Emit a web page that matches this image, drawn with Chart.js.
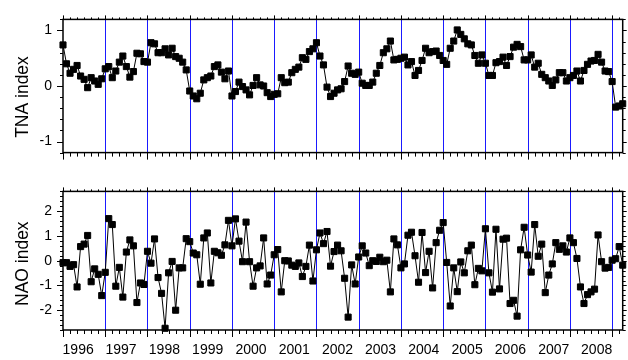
<!DOCTYPE html>
<html lang="en">
<head>
    <meta charset="UTF-8">
    <title>TNA and NAO index</title>
    <style>
        body {
            margin: 0;
            background: #fff;
        }
        .wrap {
            position: relative;
            width: 628px;
            height: 360px;
        }
        .panel {
            position: absolute;
            left: 0;
            width: 628px;
        }
        #tnaBox { top: 0; height: 172px; }
        #naoBox { top: 172px; height: 188px; }
    </style>
    <script src="https://cdn.jsdelivr.net/npm/chart.js"></script>
</head>
<body>
    <div class="wrap">
        <div class="panel" id="tnaBox"><canvas id="tnaChart"></canvas></div>
        <div class="panel" id="naoBox"><canvas id="naoChart"></canvas></div>
    </div>

    <script>
        // monthly values, Jan 1996 onwards (month index 0 = Jan 1996)
        const tnaIndex = [
            0.74, 0.40, 0.23, 0.30, 0.37, 0.18, 0.12, -0.03, 0.15, 0.09, 0.03, 0.13,
            0.31, 0.35, 0.15, 0.27, 0.43, 0.54, 0.35, 0.16, 0.26, 0.59, 0.58, 0.44,
            0.43, 0.78, 0.76, 0.60, 0.60, 0.67, 0.56, 0.68, 0.53, 0.50, 0.43, 0.29,
            -0.09, -0.18, -0.23, -0.13, 0.11, 0.15, 0.18, 0.35, 0.38, 0.25, 0.13, 0.27,
            -0.18, -0.10, 0.07, -0.01, -0.07, -0.16, 0.01, 0.15, 0.02, 0.00, -0.12, -0.19,
            -0.15, -0.14, 0.15, 0.06, 0.07, 0.24, 0.30, 0.34, 0.51, 0.48, 0.62, 0.67,
            0.78, 0.54, 0.38, -0.02, -0.19, -0.13, -0.07, -0.05, 0.08, 0.36, 0.23, 0.21,
            0.25, 0.05, 0.01, 0.01, 0.07, 0.23, 0.37, 0.60, 0.67, 0.81, 0.47, 0.48,
            0.50, 0.52, 0.38, 0.44, 0.19, 0.28, 0.46, 0.68, 0.60, 0.62, 0.63, 0.55,
            0.46, 0.39, 0.68, 0.81, 1.01, 0.93, 0.85, 0.76, 0.74, 0.55, 0.41, 0.56,
            0.41, 0.19, 0.19, 0.42, 0.44, 0.52, 0.37, 0.53, 0.70, 0.75, 0.71, 0.47,
            0.47, 0.56, 0.34, 0.41, 0.21, 0.15, 0.09, 0.01, 0.11, 0.24, 0.24, 0.09,
            0.15, 0.19, 0.27, 0.09, 0.28, 0.39, 0.45, 0.46, 0.57, 0.43, 0.27, 0.26,
            0.08, -0.38, -0.36, -0.32
        ];
        const naoIndex = [
            -0.08, -0.08, -0.23, -0.16, -1.06, 0.57, 0.67, 1.02, -0.85, -0.33, -0.55, -1.41,
            -0.47, 1.70, 1.46, -1.03, -0.27, -1.47, 0.35, 0.84, 0.60, -1.69, -0.90, -0.96,
            0.38, -0.10, 0.88, -0.68, -1.32, -2.73, -0.49, -0.03, -2.00, -0.29, -0.29, 0.89,
            0.77, 0.31, 0.24, -0.95, 0.92, 1.12, -0.90, 0.38, 0.32, 0.22, 0.64, 1.63,
            0.60, 1.69, 0.79, -0.04, 1.56, -0.04, -1.03, -0.29, -0.21, 0.92, -0.94, -0.58,
            0.24, 0.45, -1.26, 0.00, -0.01, -0.18, -0.23, -0.09, -0.64, -0.23, 0.63, -0.82,
            0.44, 1.12, 0.69, 1.18, -0.22, 0.37, 0.63, 0.40, -0.71, -2.28, -0.17, -0.94,
            0.15, 0.60, 0.31, -0.20, 0.00, -0.03, 0.14, -0.04, 0.02, -1.26, 0.88, 0.64,
            -0.29, -0.13, 1.03, 1.15, 0.20, -0.87, 1.14, -0.48, 0.38, -1.10, 0.73, 1.23,
            1.54, -0.07, -1.83, -0.29, -1.25, -0.05, -0.49, 0.40, 0.63, -0.97, -0.31, -0.41,
            1.29, -0.49, -1.27, 1.27, -1.14, 0.87, 0.91, -1.73, -1.60, -2.24, 0.44, 1.35,
            0.23, -0.46, 1.46, 0.18, 0.67, -1.29, -0.58, -0.13, 0.73, 0.46, 0.60, 0.35,
            0.92, 0.73, 0.09, -1.06, -1.73, -1.37, -1.26, -1.15, 1.04, -0.04, -0.30, -0.27,
            0.02, 0.08, 0.57, -0.18
        ];

        const years = ['1996', '1997', '1998', '1999', '2000', '2001', '2002',
                       '2003', '2004', '2005', '2006', '2007', '2008'];
        // where the year labels sit, in months from Jan 1996
        const yearLabelAt = [4.3, 16.5, 28.8, 41.1, 53.4, 65.7, 78.0, 90.2, 102.5, 114.8, 127.1, 139.4, 151.6];
        // blue lines at the start of each year
        const yearLines = [12, 24, 36, 48, 60, 72, 84, 96, 108, 120, 132, 144, 156];
        const tnaTicks = [-1, 0, 1];
        const naoTicks = [-2, -1, 0, 1, 2];
        const lastMonth = 159;

        const font = '"Liberation Sans", Arial, sans-serif';

        // frame, tick marks, year lines and rotated axis title
        const framePlugin = {
            id: 'frame',
            beforeDatasetsDraw(chart) {
                const { ctx, chartArea: a, scales: { x } } = chart;
                ctx.save();
                ctx.strokeStyle = '#1a1aff';
                ctx.lineWidth = 1;
                yearLines.forEach(m => {
                    const px = Math.round(x.getPixelForValue(m)) + 0.5;
                    ctx.beginPath();
                    ctx.moveTo(px, a.top);
                    ctx.lineTo(px, a.bottom);
                    ctx.stroke();
                });
                ctx.restore();
            },
            afterDraw(chart, args, opts) {
                const { ctx, chartArea: a, scales: { x, y } } = chart;
                const seg = (x1, y1, x2, y2) => {
                    ctx.beginPath();
                    ctx.moveTo(x1, y1);
                    ctx.lineTo(x2, y2);
                    ctx.stroke();
                };
                ctx.save();
                ctx.strokeStyle = '#000';
                ctx.lineWidth = 1;
                // x ticks every 2 months, longer at year starts
                for (let m = 0; m <= lastMonth; m += 2) {
                    const px = Math.round(x.getPixelForValue(m)) + 0.5;
                    const major = m % 12 === 0;
                    seg(px, a.bottom, px, a.bottom + (major ? 7 : 4));
                    seg(px, a.top, px, a.top - (major ? 4 : 2));
                }
                // y ticks every 0.2
                for (let i = Math.ceil(y.min * 5); i <= Math.floor(y.max * 5); i++) {
                    const py = Math.round(y.getPixelForValue(i / 5)) + 0.5;
                    const major = i % 5 === 0;
                    seg(a.left, py, a.left - (major ? 6 : 3), py);
                    seg(a.right, py, a.right + (major ? 4 : 3), py);
                }
                ctx.lineWidth = 1.5;
                ctx.strokeRect(a.left, a.top, a.right - a.left, a.bottom - a.top);

                ctx.fillStyle = '#000';
                ctx.font = '17.5px ' + font;
                ctx.translate(opts.titleX, (a.top + a.bottom) / 2 + opts.titleShift);
                ctx.rotate(-Math.PI / 2);
                ctx.textAlign = 'center';
                ctx.textBaseline = 'middle';
                ctx.fillText(opts.title, 0, 0);
                ctx.restore();
            }
        };

        function makePanel(canvasId, values, yMin, yMax, yTicks, title, titleShift, showYears, padTop, padBottom) {
            const ctx = document.getElementById(canvasId).getContext('2d');
            return new Chart(ctx, {
                type: 'line',
                data: {
                    datasets: [{
                        data: values.map((v, i) => ({ x: i, y: v })),
                        borderColor: '#000',
                        borderWidth: 1,
                        pointStyle: 'rect',
                        pointRadius: 4.3,
                        pointBorderWidth: 1,
                        pointBackgroundColor: '#000',
                        pointBorderColor: '#000',
                        tension: 0,
                        clip: false
                    }]
                },
                options: {
                    responsive: true,
                    maintainAspectRatio: false,
                    animation: false,
                    layout: {
                        padding: { top: padTop, bottom: padBottom, right: 4, left: 0 }
                    },
                    scales: {
                        x: {
                            type: 'linear',
                            min: 0,
                            max: lastMonth,
                            display: showYears,
                            grid: { display: false, drawTicks: false },
                            border: { display: false },
                            afterBuildTicks: axis => {
                                axis.ticks = yearLabelAt.map(v => ({ value: v }));
                            },
                            afterFit: axis => {
                                axis.height = showYears ? 30 : 0;
                            },
                            ticks: {
                                autoSkip: false,
                                maxRotation: 0,
                                padding: 12,
                                color: '#000',
                                font: { family: font, size: 14 },
                                callback: (v, i) => years[i]
                            }
                        },
                        y: {
                            min: yMin,
                            max: yMax,
                            grid: { display: false, drawTicks: false },
                            border: { display: false },
                            afterBuildTicks: axis => {
                                axis.ticks = yTicks.map(v => ({ value: v }));
                            },
                            afterFit: axis => {
                                axis.width = 63;
                            },
                            ticks: {
                                padding: 11,
                                color: '#000',
                                font: { family: font, size: 14 }
                            }
                        }
                    },
                    plugins: {
                        legend: { display: false },
                        tooltip: { enabled: false },
                        frame: { title: title, titleX: 23.5, titleShift: titleShift }
                    }
                },
                plugins: [framePlugin]
            });
        }

        makePanel('tnaChart', tnaIndex, -1.2, 1.2, tnaTicks, 'TNA index', 11, false, 13, 13);
        makePanel('naoChart', naoIndex, -2.8, 2.8, naoTicks, 'NAO index', 3, true, 12, 0);
    </script>
</body>
</html>
